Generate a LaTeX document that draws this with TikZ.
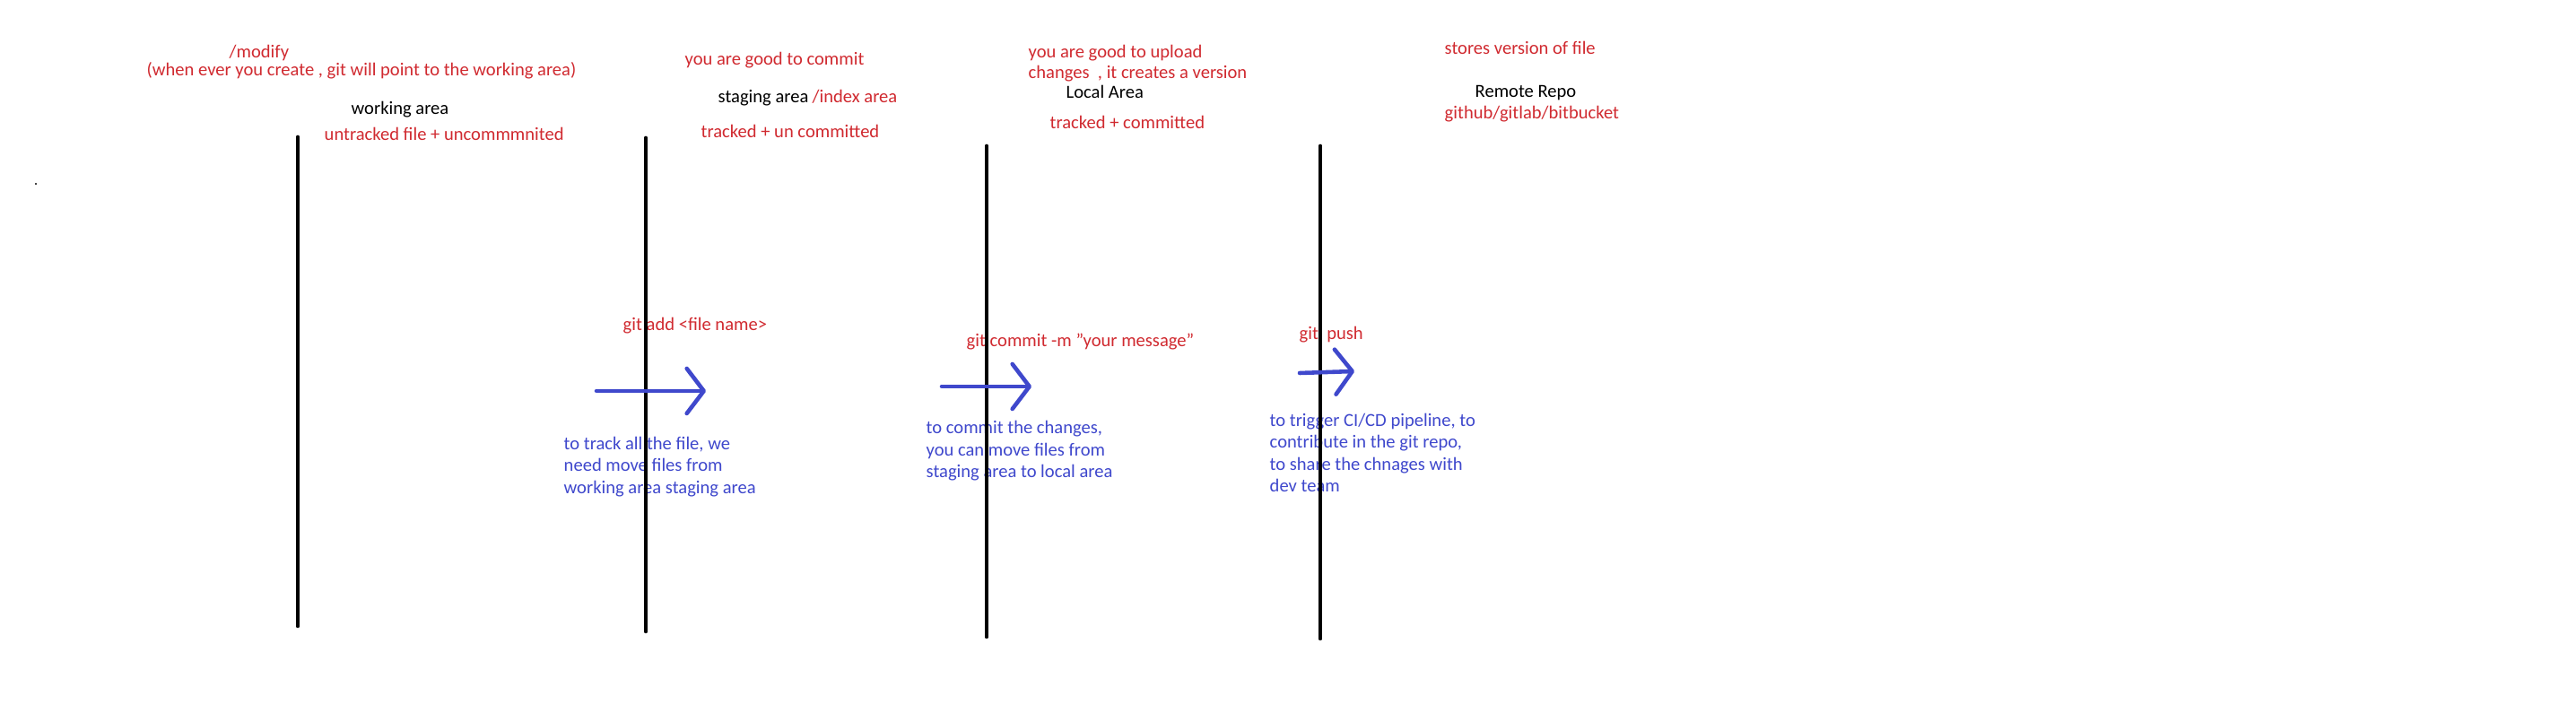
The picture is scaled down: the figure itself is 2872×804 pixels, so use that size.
\documentclass[tikz,border=0pt]{standalone}
\usepackage{fontspec}
\setmainfont{Carlito}
\usetikzlibrary{arrows.meta}
\definecolor{paintred}{RGB}{208,42,48}
\definecolor{paintblue}{RGB}{63,72,204}
\begin{document}
\begin{tikzpicture}[x=0.01cm, y=-0.01cm]

\tikzstyle{txt1}=[anchor=base west, inner sep=0pt, text=paintred, font=\fontsize{5.85}{6.83}\selectfont]
\tikzstyle{txt2}=[anchor=base west, inner sep=0pt, text=black, font=\fontsize{5.85}{6.83}\selectfont]
\tikzstyle{txt3}=[anchor=north west, inner sep=0pt, align=left, text=paintblue, font=\fontsize{5.85}{6.83}\selectfont]
\tikzstyle{line1}=[line width=1.33pt, line cap=round]
\tikzstyle{arrow}=[paintblue, line width=1.3pt, line cap=round, -{Straight Barb[round, length=1.9mm, width=5mm]}]

\useasboundingbox (0,0) rectangle (2872,804);

% working area
\node (modify) [txt1] at (255,65) {/modify};
\node (whenever) [txt1] at (163,85) {(when ever you create , git will point to the working area)};
\node (work) [txt2] at (391,128) {working area};
\node (untracked) [txt1] at (361,157) {untracked file + uncommmnited};

% staging area
\node (goodcommit) [txt1] at (763,73) {you are good to commit};
\node (staging) [txt2] at (800,115) {staging area};
\node (index) [txt1] at (905,115) {/index area};
\node (uncommitted) [txt1] at (781,154) {tracked + un committed};

% local area
\node (goodupload) [txt1] at (1146,65) {you are good to upload};
\node (changes) [txt1] at (1146,88) {changes\ \ , it creates a version};
\node (local) [txt2] at (1188,110) {Local Area};
\node (committed) [txt1] at (1170,144) {tracked + committed};

% remote repo
\node (stores) [txt1] at (1610,61) {stores version of file};
\node (remote) [txt2] at (1644,109) {Remote Repo};
\node (hosts) [txt1] at (1610,133) {github/gitlab/bitbucket};

% commands
\node (addcmd) [txt1] at (694,369) {git add <file name>};
\node (commitcmd) [txt1] at (1077,387) {git commit -m "your message"};
\node (pushcmd) [txt1] at (1448,379) {git\ \ push};

\node (addnote) [txt3] at (628,487) {to track all the file, we\\ need move files from\\ working area staging area};
\node (commitnote) [txt3] at (1032,469) {to commit the changes,\\ you can move files from\\ staging area to local area};
\node (pushnote) [txt3] at (1415,461) {to trigger CI/CD pipeline, to\\ contribute in the git repo,\\ to share the chnages with\\ dev team};

% area lines
\coordinate (worktop) at (332,153);
\coordinate (workbot) at (332,698);
\coordinate (stagetop) at (720,154);
\coordinate (stagebot) at (720,704);
\coordinate (localtop) at (1100,163);
\coordinate (localbot) at (1100,710);
\coordinate (remotetop) at (1472,163);
\coordinate (remotebot) at (1472,712);
\draw [line1] (worktop) -- (workbot);
\draw [line1] (stagetop) -- (stagebot);
\draw [line1] (localtop) -- (localbot);
\draw [line1] (remotetop) -- (remotebot);

% arrows
\coordinate (addfrom) at (665,436);
\coordinate (addto) at (787,436);
\coordinate (commitfrom) at (1050,431);
\coordinate (committo) at (1150,431);
\coordinate (pushfrom) at (1449,416);
\coordinate (pushto) at (1510,414);
\draw [arrow] (addfrom) -- (addto);
\draw [arrow] (commitfrom) -- (committo);
\draw [arrow] (pushfrom) -- (pushto);

\fill (40,205) circle (0.12mm);

\end{tikzpicture}
\end{document}
